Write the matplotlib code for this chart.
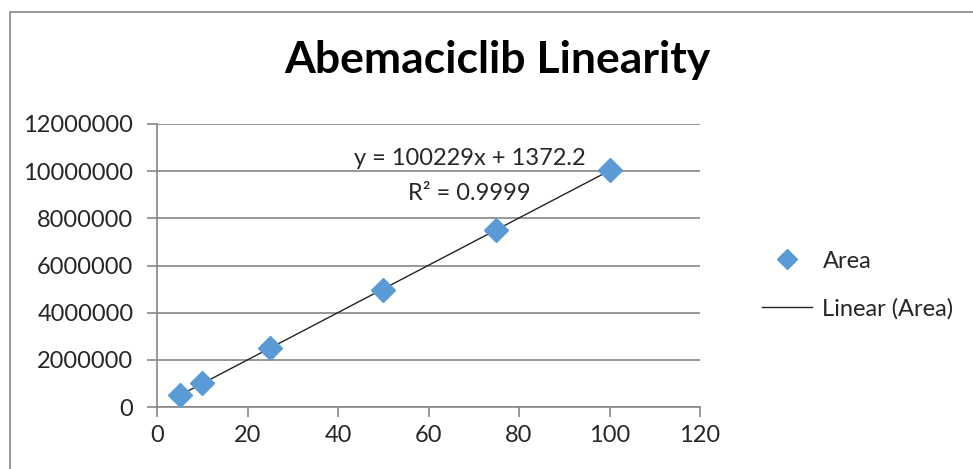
import numpy as np
import matplotlib.pyplot as plt
from matplotlib.patches import Rectangle
from matplotlib.lines import Line2D

plt.rcParams['font.family'] = ['Lato', 'DejaVu Sans']

# concentration and peak area
conc = [5, 10, 25, 50, 75, 100]
area = [498000, 1010000, 2510000, 4950000, 7520000, 10040000]
x_ticks = [0, 20, 40, 60, 80, 100, 120]
y_ticks = [0, 2000000, 4000000, 6000000, 8000000, 10000000, 12000000]

grid_col = '#868686'
blue = '#5B9BD5'
txt_col = '#262626'

fig = plt.figure(figsize=(9.73, 4.69), dpi=100)
# chart frame (only left and top edges visible in the crop)
fig.patches.append(Rectangle((10 / 973, -0.1), 1.2, 1 - 12 / 469 + 0.1,
                             transform=fig.transFigure, fill=False,
                             edgecolor=grid_col, linewidth=1.2))

ax = fig.add_axes([157 / 973, 1 - 407 / 469, (700 - 157) / 973, (407 - 124) / 469])

# trend line from least squares fit
slope, icpt = np.polyfit(conc, area, 1)
xs = np.array([conc[0], conc[-1]])
ax.plot(xs, slope * xs + icpt, color='#222222', linewidth=1, zorder=2)
ax.plot(conc, area, linestyle='none', marker='D', markersize=12,
        color=blue, zorder=3)

ax.set_xlim(0, 120)
ax.set_ylim(0, 12000000)
ax.set_xticks(x_ticks)
ax.set_yticks(y_ticks)
ax.set_yticklabels([str(v) for v in y_ticks])
ax.tick_params(labelsize=17, labelcolor=txt_col, length=7, width=1.2,
               color=grid_col)
ax.tick_params(axis='y', pad=10)
ax.tick_params(axis='x', pad=6)
ax.grid(axis='y', color=grid_col, linewidth=1.2)
ax.set_axisbelow(True)
for s in ['top', 'right']:
    ax.spines[s].set_visible(False)
for s in ['left', 'bottom']:
    ax.spines[s].set_color(grid_col)
    ax.spines[s].set_linewidth(1.2)

ax.text(69.2, 10080000, 'y = 100229x + 1372.2', ha='center', va='bottom',
        fontsize=17, color=txt_col)
ax.text(69.0, 9050000, 'R² = 0.9999', ha='center', va='center',
        fontsize=17, color=txt_col)

fig.text(497 / 973, 1 - 60 / 469, 'Abemaciclib Linearity', ha='center',
         va='center', fontsize=32, fontweight='bold')

handles = [Line2D([], [], linestyle='none', marker='D', markersize=10, color=blue),
           Line2D([], [], color='#222222', linewidth=1)]
fig.legend(handles, ['Area', 'Linear (Area)'], loc='center left',
           bbox_to_anchor=(741 / 973, 1 - 285 / 469), frameon=False,
           fontsize=17, handlelength=2.1, labelspacing=1.1, handletextpad=0.45,
           labelcolor=txt_col)

fig.savefig('out.png', dpi=100)
